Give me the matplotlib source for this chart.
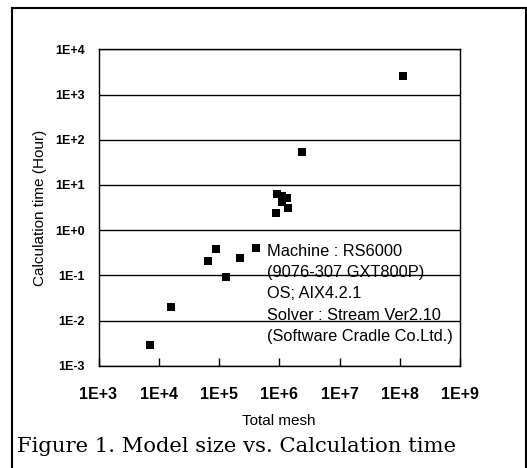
import numpy as np
import matplotlib
matplotlib.use('Agg')
import matplotlib.pyplot as plt
from matplotlib.lines import Line2D

# data
total_mesh = [7.2e3, 1.6e4, 6.5e4, 8.95e4, 1.30e5, 2.27e5, 4.18e5,
              9.1e5, 1.10e6, 1.37e6, 1.13e6, 1.42e6, 8.97e5, 2.4e6, 1.13e8]
calc_hours = [2.9e-3, 0.020, 0.207, 0.376, 0.093, 0.245, 0.408,
              6.3, 5.7, 5.1, 4.1, 3.1, 2.35, 52.6, 2565]
x_ticks = [1e3, 1e4, 1e5, 1e6, 1e7, 1e8, 1e9]
x_labels = ['1E+3', '1E+4', '1E+5', '1E+6', '1E+7', '1E+8', '1E+9']
y_ticks = [1e-3, 1e-2, 1e-1, 1e0, 1e1, 1e2, 1e3, 1e4]
y_labels = ['1E-3', '1E-2', '1E-1', '1E+0', '1E+1', '1E+2', '1E+3', '1E+4']
note_lines = ['Machine : RS6000', '(9076-307 GXT800P)', 'OS; AIX4.2.1',
              'Solver : Stream Ver2.10', '(Software Cradle Co.Ltd.)']

W, H = 527, 468
plt.rcParams['font.family'] = ['Liberation Sans', 'DejaVu Sans']

def fx(x):
    return x / W

def fy(y):
    return 1 - y / H

fig = plt.figure(figsize=(W / 100, H / 100), dpi=100)
ax = fig.add_axes([fx(98.5), fy(365.7), fx(460) - fx(98.5), fy(49.3) - fy(365.7)])

ax.scatter(total_mesh, calc_hours, marker='s', s=26, c='black', linewidths=0, zorder=3)

ax.set_xscale('log')
ax.set_yscale('log')
ax.set_xlim(1e3, 1e9)
ax.set_ylim(1e-3, 1e4)
ax.set_xticks(x_ticks)
ax.set_xticklabels(x_labels, fontsize=11.5, fontweight='bold')
ax.set_yticks(y_ticks)
ax.set_yticklabels(y_labels, fontsize=9, fontweight='bold')
ax.minorticks_off()
ax.tick_params(axis='x', direction='in', length=6, width=1, pad=15)
ax.tick_params(axis='y', length=0, pad=10)
ax.grid(axis='y', color='black', linewidth=1)
for s in ax.spines.values():
    s.set_linewidth(1)

ax.set_xlabel('Total mesh', fontsize=11, labelpad=9)
ax.set_ylabel('Calculation time (Hour)', fontsize=11, labelpad=6)

# note box text
note_y = [252, 273, 294, 315, 336]
for line, yy in zip(note_lines, note_y):
    fig.text(fx(267), fy(yy), line, fontsize=11.8, va='center', ha='left')

fig.text(fx(17), fy(447), 'Figure 1. Model size vs. Calculation time',
         family='DejaVu Serif', fontsize=15.2, va='center', ha='left')

# frame around the figure
fig.add_artist(Line2D([fx(11.7), fx(11.7)], [0, fy(8)], color='black', lw=1.5))
fig.add_artist(Line2D([fx(11.7), fx(526)], [fy(8), fy(8)], color='black', lw=1.5))
fig.add_artist(Line2D([fx(526), fx(526)], [fy(8), 0], color='black', lw=1.5))

fig.savefig('out.png', dpi=100)
